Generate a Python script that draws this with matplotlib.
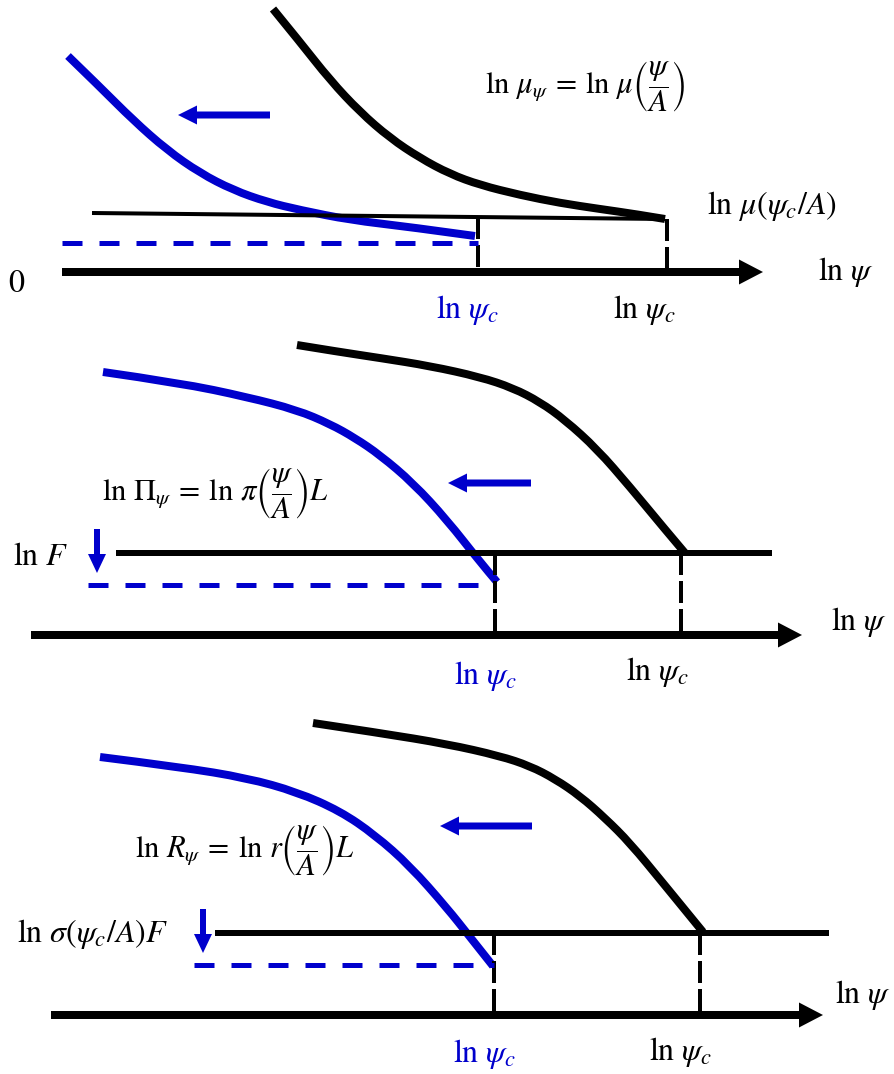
import matplotlib
matplotlib.use("Agg")
import matplotlib.pyplot as plt
from matplotlib.patches import FancyArrow, PathPatch
from matplotlib.path import Path

plt.rcParams['mathtext.fontset'] = 'stix'
plt.rcParams['font.family'] = 'STIXGeneral'
plt.rcParams['lines.scale_dashes'] = False

W, H = 894, 1074
BLUE = '#0000CC'
PX = 0.72          # points per pixel at 100 dpi
FS = 23            # labels
FS_EQ = 22         # curve equations

# ---- panel 1: ln mu_psi ------------------------------------------------
mu_x = [273, 300, 330, 360, 390, 420, 450, 480, 520, 560, 600, 635, 665]
mu_y = [9, 42, 80, 112, 138, 158, 174, 185, 195, 203, 209, 214, 219]
mu_new_x = [68, 100, 133, 167, 200, 233, 267, 300, 350, 410, 475]
mu_new_y = [56, 87, 120, 150, 173, 190, 202, 210, 220, 227, 236]
mu_level_x = [92, 665]
mu_level_y = [213, 219]

# ---- panel 2: ln Pi_psi ------------------------------------------------
pi_x = [297, 340, 380, 430, 480, 513, 540, 565, 597, 630, 663, 685]
pi_y = [345, 352, 358, 366, 377, 388, 402, 420, 449, 487, 527, 553]
pi_new_x = [103, 180, 247, 297, 330, 355, 380, 413, 447, 480, 497]
pi_new_y = [372, 383, 397, 410, 424, 438, 455, 483, 520, 562, 582]

# ---- panel 3: ln R_psi -------------------------------------------------
r_x = [313, 380, 447, 500, 530, 555, 580, 605, 630, 663, 703]
r_y = [723, 733, 744, 756, 766, 779, 796, 818, 843, 883, 932]
r_new_x = [100, 180, 247, 297, 340, 375, 410, 447, 470, 493]
r_new_y = [757, 767, 778, 792, 811, 835, 866, 908, 937, 966]

# per-panel layout: axis row, axis start/tip, critical points, levels
axis_y = [272, 635, 1015]
axis_x0 = [62, 31, 51]
axis_tip = [763, 802, 823]
crit_old = [667, 681, 700]
crit_new = [478, 495, 494]
level_old = [219, 553, 933]          # where dashed drop lines start
level_new = [243, 585, 965]          # shifted (blue dashed) level
level_new_x0 = [62, 88, 194]
flat_x0 = [None, 116, 215]           # horizontal thresholds (panels 2,3)
flat_x1 = [None, 772, 829]

fig = plt.figure(figsize=(W / 100, H / 100), dpi=100)
ax = fig.add_axes([0, 0, 1, 1])
ax.set_xlim(0, W)
ax.set_ylim(H, 0)
ax.axis('off')


def arrow(x0, y0, x1, y1, color, width, hw, hl):
    ax.add_patch(FancyArrow(x0, y0, x1 - x0, y1 - y0, width=width,
                            head_width=hw, head_length=hl,
                            length_includes_head=True, color=color, lw=0))


def curve(x, y, color, w=8):
    """Smooth stroke: each interior point is a quadratic Bezier control."""
    pts = list(zip(x, y))
    verts = [pts[0]]
    codes = [Path.MOVETO]
    for i in range(1, len(pts) - 1):
        mid = ((pts[i][0] + pts[i + 1][0]) / 2, (pts[i][1] + pts[i + 1][1]) / 2)
        if i == len(pts) - 2:
            mid = pts[-1]
        verts += [pts[i], mid]
        codes += [Path.CURVE3, Path.CURVE3]
    ax.add_patch(PathPatch(Path(verts, codes), fill=False, edgecolor=color,
                           lw=w * PX, capstyle='butt', joinstyle='round'))


# original and shifted curves
curve(mu_x, mu_y, 'k')
curve(mu_new_x, mu_new_y, BLUE)
curve(pi_x, pi_y, 'k')
curve(pi_new_x, pi_new_y, BLUE)
curve(r_x, r_y, 'k')
curve(r_new_x, r_new_y, BLUE)

# panel 1 thin level line
ax.plot(mu_level_x, mu_level_y, color='k', lw=4 * PX, solid_capstyle='butt')

for i in range(3):
    ay = axis_y[i]
    # horizontal axis arrow
    arrow(axis_x0[i], ay, axis_tip[i], ay, 'k', 8, 25, 24)
    # thresholds
    if flat_x0[i] is not None:
        ax.plot([flat_x0[i], flat_x1[i]], [level_old[i], level_old[i]],
                color='k', lw=6 * PX, solid_capstyle='butt')
    # dashed drop lines
    top_new = level_old[i] if i else 217
    ax.plot([crit_old[i], crit_old[i]], [level_old[i], ay], color='k',
            lw=4 * PX, dashes=(22 * PX, 6 * PX))
    ax.plot([crit_new[i], crit_new[i]], [top_new, ay], color='k',
            lw=4 * PX, dashes=(22 * PX, 6 * PX))
    # shifted level
    ax.plot([level_new_x0[i], crit_new[i]], [level_new[i], level_new[i]],
            color=BLUE, lw=5 * PX, dashes=(20 * PX, 17 * PX))

# leftward shift arrows
arrow(270, 115, 178, 115, BLUE, 7, 19, 19)
arrow(531, 483, 448, 483, BLUE, 7, 19, 19)
arrow(532, 826, 440, 826, BLUE, 7, 19, 19)
# downward shift arrows
arrow(97, 529, 97, 573, BLUE, 6, 18, 19)
arrow(203, 909, 203, 953, BLUE, 6, 18, 19)


# ---- labels ------------------------------------------------------------
def label(x, y, s, color='k', ha='left', fs=FS):
    ax.text(x, y, s, color=color, fontsize=fs, ha=ha, va='baseline')


label(485, 93, r'$\ln\,\mu_{\psi}\:=\:\ln\,\mu\left(\dfrac{\psi}{A}\right)$',
      fs=FS_EQ)
label(707, 214, r'$\ln\,\mu(\psi_c/A)$')
label(17, 292, r'$0$', ha='center')
label(874, 280, r'$\ln\,\psi$', ha='right')
label(467, 318, r'$\ln\,\psi_c$', BLUE, 'center')
label(644, 318, r'$\ln\,\psi_c$', 'k', 'center')

label(102, 500, r'$\ln\,\Pi_{\psi}\:=\:\ln\,\pi\left(\dfrac{\psi}{A}\right)L$',
      fs=FS_EQ)
label(13, 565, r'$\ln\,F$')
label(887, 630, r'$\ln\,\psi$', ha='right')
label(485, 684, r'$\ln\,\psi_c$', BLUE, 'center')
label(657, 680, r'$\ln\,\psi_c$', 'k', 'center')

label(135, 857, r'$\ln\,R_{\psi}\:=\:\ln\,r\left(\dfrac{\psi}{A}\right)L$',
      fs=FS_EQ)
label(17, 942, r'$\ln\,\sigma(\psi_c/A)F$')
label(891, 1003, r'$\ln\,\psi$', ha='right')
label(484, 1062, r'$\ln\,\psi_c$', BLUE, 'center')
label(680, 1060, r'$\ln\,\psi_c$', 'k', 'center')

fig.savefig('out.png', dpi=100)
